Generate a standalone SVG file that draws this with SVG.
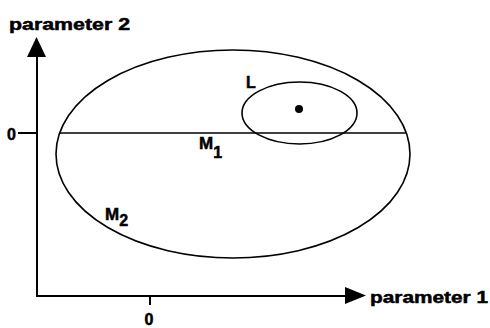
<svg xmlns="http://www.w3.org/2000/svg" width="490" height="328" viewBox="0 0 490 328">
<style>
.t{font-family:"Liberation Sans",Arial,Helvetica,sans-serif;font-weight:bold;fill:#000;stroke:#000;stroke-width:0.5}
.ln{fill:none;stroke:#000;stroke-width:1.6}
.ax{fill:none;stroke:#000;stroke-width:2}
</style>
<rect width="490" height="328" fill="#fff"/>
<g id="axes">
  <line class="ax" x1="37" y1="50" x2="37" y2="297"/>
  <line class="ax" x1="36" y1="296" x2="350" y2="296"/>
  <polygon points="36.5,37 27,57 46,57" fill="#000"/>
  <polygon points="366,295.5 345,287 345,304" fill="#000"/>
  <line class="ax" x1="18" y1="133" x2="37" y2="133"/>
  <line class="ax" x1="150" y1="296" x2="150" y2="305"/>
  <text class="t" x="9" y="30" font-size="17" textLength="121" lengthAdjust="spacingAndGlyphs">parameter 2</text>
  <text class="t" x="370" y="303" font-size="17" textLength="118" lengthAdjust="spacingAndGlyphs">parameter 1</text>
  <text class="t" x="7" y="139.5" font-size="16">0</text>
  <text class="t" x="144.5" y="325" font-size="16">0</text>
</g>
<g id="M2">
  <ellipse class="ln" cx="233" cy="154" rx="177" ry="104"/>
  <text class="t" x="105" y="220" font-size="17">M<tspan font-size="16" dy="6">2</tspan></text>
</g>
<g id="M1">
  <line class="ln" x1="60" y1="133" x2="406" y2="133"/>
  <text class="t" x="199" y="149" font-size="17">M<tspan font-size="16" dy="9">1</tspan></text>
</g>
<g id="L">
  <ellipse class="ln" cx="299.5" cy="113" rx="57.5" ry="31"/>
  <circle cx="299" cy="109" r="4" fill="#000"/>
  <text class="t" x="246" y="88" font-size="16">L</text>
</g>
<g id="connectors"></g>
</svg>
